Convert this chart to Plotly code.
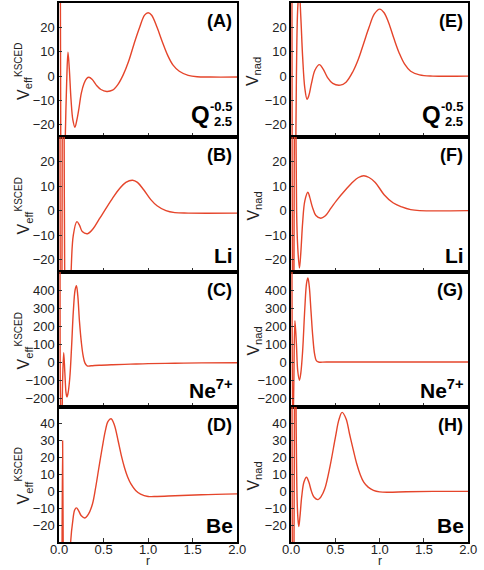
import plotly.graph_objects as go

# ---------------- data ----------------
# Panel A: V_eff^KSCED, Q_2.5^-0.5
rA = [0.0, 0.01, 0.02, 0.035, 0.05, 0.062, 0.07, 0.085, 0.1, 0.115, 0.135, 0.155, 0.178, 0.2, 0.22, 0.25, 0.28, 0.31, 0.335,
      0.37, 0.42, 0.47, 0.535, 0.6, 0.66, 0.72, 0.78, 0.84, 0.9, 0.96, 1.0, 1.04, 1.1, 1.16, 1.22, 1.28, 1.35, 1.45, 1.55, 1.7, 2.0]
vA = [300, 100, -40, -150, -100, -40, -25, -3, 9.8, 3, -10, -18, -21, -18, -14, -7, -3, -1, -0.5,
      -1.3, -3.8, -5.5, -6.3, -5.8, -3.5, 0.5, 6, 13, 19.5, 25, 26, 25, 20, 14, 8.5, 4.5, 2, 0.3, -0.3, -0.4, -0.4]

# Panel B: V_eff^KSCED, Li
rB = [0.0, 0.008, 0.02, 0.03, 0.042, 0.055, 0.065, 0.09, 0.115, 0.135, 0.16, 0.2, 0.23, 0.26, 0.32, 0.38, 0.45, 0.52, 0.6, 0.68,
      0.75, 0.825, 0.88, 0.95, 1.03, 1.1, 1.2, 1.3, 1.45, 2.0]
vB = [400, 100, -100, -60, 100, 60, -40, -80, -50, -25, -10, -4.5, -6, -8.5, -9.4, -7.5, -3.5, 0.5, 5, 9,
      11.5, 12.4, 11.5, 8.5, 4.5, 2, 0, -0.8, -1.0, -1.0]

# Panel C: V_eff^KSCED, Ne7+
rC = [0.0, 0.01, 0.02, 0.03, 0.04, 0.052, 0.065, 0.078, 0.088, 0.1, 0.12, 0.14, 0.16, 0.18, 0.195, 0.21, 0.23, 0.25, 0.27,
      0.29, 0.315, 0.36, 0.45, 0.6, 0.8, 1.0, 1.3, 1.6, 2.0]
vC = [2000, 600, -300, -350, -100, 52, -60, -170, -194, -175, -90, 80, 280, 400, 424, 370, 220, 110, 35,
      -5, -22, -21, -18, -15, -12, -9, -7, -5, -4]

# Panel D: V_eff^KSCED, Be
rD = [0.0, 0.02, 0.033, 0.04, 0.047, 0.065, 0.09, 0.11, 0.13, 0.155, 0.175, 0.195, 0.22, 0.25, 0.29, 0.33, 0.375, 0.41,
      0.447, 0.485, 0.52, 0.55, 0.584, 0.62, 0.663, 0.7, 0.735, 0.77, 0.807, 0.86, 0.915, 1.0, 1.1, 1.3, 1.6, 2.0]
vD = [-500, -300, -40, 30, -40, -200, -150, -70, -30, -17, -11, -9.8, -11.5, -14.5, -15.8, -13.5, -7.5, 2,
      14, 26, 36, 41.5, 43, 39.5, 30, 21, 14, 8.5, 4.4, 0.5, -1.6, -3, -3, -2.6, -2, -1.5]

# Panel E: V_nad, Q_2.5^-0.5
rE = [0.0, 0.012, 0.03, 0.045, 0.06, 0.075, 0.092, 0.11, 0.13, 0.155, 0.18, 0.2, 0.23, 0.27, 0.32, 0.36, 0.41, 0.47, 0.555,
      0.62, 0.7, 0.76, 0.82, 0.88, 0.94, 1.0, 1.05, 1.1, 1.16, 1.22, 1.28, 1.35, 1.45, 1.6, 2.0]
vE = [300, -40, -150, -60, 0, 28, 35, 24, 8, -5, -9.5, -8, -3, 2.5, 4.7, 3, -0.5, -3, -3.7,
      -2.5, 2, 7, 13.5, 20, 25.5, 27.5, 26, 22, 15.5, 9.5, 5, 2, 0.5, 0, 0]

# Panel F: V_nad, Li
rF = [0.0, 0.01, 0.02, 0.03, 0.04, 0.05, 0.062, 0.075, 0.094, 0.11, 0.13, 0.155, 0.19, 0.21, 0.24, 0.28, 0.335, 0.38, 0.45,
      0.51, 0.62, 0.7, 0.76, 0.82, 0.88, 0.95, 1.05, 1.15, 1.25, 1.35, 1.45, 2.0]
vF = [400, 60, -80, -60, 80, 60, 0, -15, -23.4, -17, -5, 4, 7.5, 5.5, 1.5, -2, -3.1, -2.3, 1,
      4, 8.7, 11.8, 13.5, 14.2, 13.5, 11.5, 6.5, 3.2, 1.5, 0.4, 0, 0]

# Panel G: V_nad, Ne7+
rG = [0.0, 0.01, 0.02, 0.03, 0.043, 0.06, 0.075, 0.094, 0.11, 0.13, 0.155, 0.175, 0.19, 0.205, 0.225, 0.245, 0.265, 0.285,
      0.31, 0.4, 2.0]
vG = [3000, 400, -400, -150, 229, 100, -50, -101, -60, 60, 300, 440, 467, 420, 280, 140, 45, 8, 0, 0, 0]

# Panel H: V_nad, Be
rH = [0.0, 0.012, 0.022, 0.035, 0.045, 0.057, 0.068, 0.077, 0.087, 0.1, 0.12, 0.145, 0.174, 0.2, 0.23, 0.26, 0.304, 0.34,
      0.38, 0.44, 0.5, 0.54, 0.576, 0.62, 0.66, 0.70, 0.74, 0.78, 0.82, 0.87, 0.93, 1.0, 1.1, 1.3, 1.6, 2.0]
vH = [400, 0, -150, 0, 150, 40, -5, -16, -20.8, -15, -3, 5.5, 8.4, 5.5, 0, -3.5, -4.9, -3, 1.5, 15, 32, 42.5, 46.8, 43,
      34, 25, 16.5, 10, 5.5, 2.5, 0.6, -0.3, -0.5, -0.2, 0, 0]

x_ticks = [0.0, 0.5, 1.0, 1.5, 2.0]
y_ticks_small = [-20, -10, 0, 10, 20]
y_ticks_ne = [-200, -100, 0, 100, 200, 300, 400]
y_ticks_be = [-20, -10, 0, 10, 20, 30, 40]

panel_letters = ["A", "B", "C", "D", "E", "F", "G", "H"]
panel_r = [rA, rB, rC, rD, rE, rF, rG, rH]
panel_v = [vA, vB, vC, vD, vE, vF, vG, vH]
panel_ranges = [[-25, 30], [-25, 30], [-250, 500], [-30, 50]] * 2
panel_yticks = [y_ticks_small, y_ticks_small, y_ticks_ne, y_ticks_be] * 2

# ---------------- layout geometry ----------------
W, H = 484, 570
col_px = [(52, 237), (293, 477)]
row_px = [(3, 137), (137, 272), (272, 407), (407, 542)]
LINE = "#E5452B"
FONT = "Liberation Sans, Arial, sans-serif"

fig = go.Figure()
layout = dict(width=W, height=H, margin=dict(l=0, r=0, t=0, b=0),
              paper_bgcolor="white", plot_bgcolor="white", showlegend=False,
              font=dict(family=FONT, size=13, color="#222"))
annotations = []

for i in range(8):
    col = i // 4
    row = i % 4
    n = i + 1
    xs = "" if n == 1 else str(n)
    fig.add_trace(go.Scatter(x=panel_r[i], y=panel_v[i], mode="lines",
                             line=dict(color=LINE, width=1.4, shape="spline", smoothing=1.0),
                             xaxis="x" + xs, yaxis="y" + xs, hoverinfo="skip"))
    x0, x1 = col_px[col]
    y0, y1 = row_px[row]
    bottom = row == 3
    layout["xaxis" + xs] = dict(
        domain=[x0 / W, x1 / W], anchor="y" + xs, range=[0, 2], tickvals=x_ticks,
        ticktext=["%.1f" % t for t in x_ticks], ticks="inside", ticklen=4, tickcolor="#333",
        showticklabels=bottom, showline=True, mirror=True, linecolor="black", linewidth=2,
        showgrid=False, zeroline=False, tickfont=dict(size=13, color="#222"),
        ticklabelstandoff=-6)
    layout["yaxis" + xs] = dict(
        domain=[1 - y1 / H, 1 - y0 / H], anchor="x" + xs, range=panel_ranges[i],
        tickvals=panel_yticks[i], ticks="inside", ticklen=3, tickcolor="#333",
        showline=True, mirror=True, linecolor="black", linewidth=1.5,
        showgrid=False, zeroline=False, tickfont=dict(size=13, color="#222"))

    if bottom:
        annotations.append(dict(text="r", xref="x%s domain" % xs, yref="paper", x=0.5, y=0,
                                xanchor="center", yanchor="bottom", showarrow=False,
                                font=dict(size=12, color="#222")))
    # panel letter
    annotations.append(dict(text="<b>(%s)</b>" % panel_letters[i], xref="x%s domain" % xs, yref="y%s domain" % xs,
                            x=1, y=1, xanchor="right", yanchor="top", xshift=-3, yshift=-6,
                            showarrow=False, font=dict(size=18, color="black")))
    # species label
    if row == 0:
        annotations.append(dict(text="<b>Q</b>", xref="x%s domain" % xs, yref="y%s domain" % xs,
                                x=1, y=0, xanchor="right", yanchor="bottom", xshift=-25, yshift=7,
                                showarrow=False, font=dict(size=24, color="black")))
        annotations.append(dict(text="<b>-0.5</b>", xref="x%s domain" % xs, yref="y%s domain" % xs,
                                x=1, y=0, xanchor="right", yanchor="bottom", xshift=-3, yshift=21,
                                showarrow=False, font=dict(size=13, color="black")))
        annotations.append(dict(text="<b>2.5</b>", xref="x%s domain" % xs, yref="y%s domain" % xs,
                                x=1, y=0, xanchor="right", yanchor="bottom", xshift=-3, yshift=6,
                                showarrow=False, font=dict(size=13, color="black")))
    else:
        label = {1: "Li", 2: "Ne<sup>7+</sup>", 3: "Be"}[row]
        annotations.append(dict(text="<b>%s</b>" % label, xref="x%s domain" % xs, yref="y%s domain" % xs,
                                x=1, y=0, xanchor="right", yanchor="bottom", xshift=-2, yshift=3,
                                showarrow=False, font=dict(size=21, color="black")))
    # y-axis title
    ycen = 1 - ((y0 + y1) / 2 + 1.5) / H
    if col == 0:
        ttl = "V<sub>eff</sub><sup><span style='font-size:10px'>KSCED</span></sup>"
        xt = 15
    else:
        ttl = "V<sub>nad</sub>"
        xt = 254
    annotations.append(dict(text=ttl, xref="paper", yref="paper", x=xt / W, y=ycen,
                            xanchor="center", yanchor="middle", textangle=-90, showarrow=False,
                            font=dict(size=16, color="#222")))

layout["annotations"] = annotations
fig.update_layout(**layout)
fig.write_html("out.html")
